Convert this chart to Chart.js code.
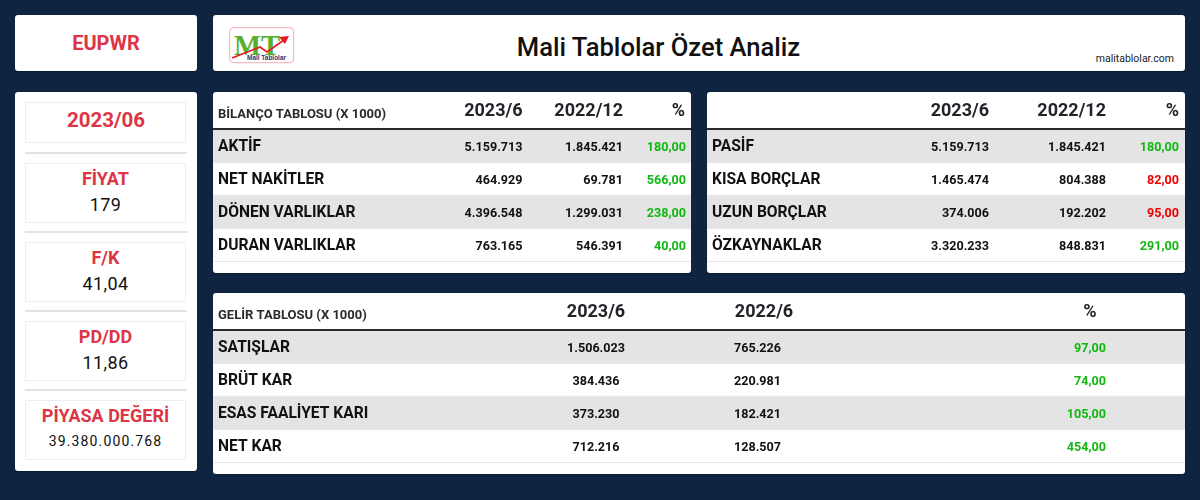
<!DOCTYPE html>
<html lang="tr">
<head>
<meta charset="utf-8">
<title>Mali Tablolar Özet Analiz</title>
<script src="https://cdn.jsdelivr.net/npm/chart.js@4"></script>
<style>
  html, body { margin: 0; padding: 0; }
  body { width: 1200px; height: 500px; background: #0e2440; font-family: Roboto, sans-serif; position: relative; overflow: hidden; color: #111; }
  .card { position: absolute; background: #fff; border-radius: 3px; box-shadow: 0 1px 1px rgba(0,0,0,.25); }
  .card canvas { position: absolute; left: 0; top: 0; }
  .red { color: #dc3545; }
  #symbol { left: 15px; top: 15px; width: 182px; height: 56px; text-align: center; font-size: 20px; font-weight: 700; line-height: 56px; }
  #head { left: 213px; top: 15px; width: 972px; height: 56px; }
  #head h1 { position: absolute; left: 0; width: 891px; top: 14px; margin: 0; text-align: center; font-size: 25.6px; font-weight: 500; line-height: 36px; color: #111; }
  #head span { position: absolute; right: 11px; top: 37px; font-size: 10.5px; line-height: 14px; color: #222; }
  #logo { position: absolute; left: 16px; top: 12px; }
  #side { left: 15px; top: 92px; width: 182px; height: 379px; }
  .box { position: absolute; left: 10px; width: 161px; border: 1px solid #eee; text-align: center; box-sizing: border-box; }
  .box b { display: block; font-weight: 700; font-size: 18px; line-height: 24px; }
  .box i { display: block; font-style: normal; font-size: 18px; line-height: 28px; letter-spacing: .4px; }
  .rule { position: absolute; left: 10px; width: 162px; height: 2px; background: #e3e3e3; }
</style>
</head>
<body>
<div class="card red" id="symbol"></div>
<div class="card" id="head">
  <svg id="logo" width="66" height="37" viewBox="0 0 66 37">
    <rect x=".7" y=".7" width="64" height="35" rx="4" fill="#fff" stroke="#f7a8b0" stroke-width="1"/>
    <text x="5" y="28" font-family="Liberation Serif" font-weight="700" font-size="30" fill="#55b02c" textLength="46" lengthAdjust="spacingAndGlyphs">MT</text>
    <polyline points="3,31 31,20 38,25 55,13" fill="none" stroke="#e21b22" stroke-width="1.6"/>
    <polygon points="60,9 50,10 56,17" fill="#e21b22"/>
    <text x="18" y="33" font-family="Liberation Sans" font-weight="700" font-size="6.5" fill="#2e3277" textLength="39" lengthAdjust="spacingAndGlyphs">Mali Tablolar</text>
  </svg>
  <h1 id="mainTitle"></h1>
  <span id="siteName"></span>
</div>
<div class="card" id="side"></div>
<div class="card" style="left:213px;top:92px;width:478px;height:181px"><canvas id="bilancoChart" width="478" height="181"></canvas></div>
<div class="card" style="left:707px;top:92px;width:478px;height:181px"><canvas id="pasifChart" width="478" height="181"></canvas></div>
<div class="card" style="left:213px;top:293px;width:972px;height:181px"><canvas id="gelirChart" width="972" height="181"></canvas></div>

<script>
const symbolName = 'EUPWR';
const mainTitle = 'Mali Tablolar Özet Analiz';
const siteName = 'malitablolar.com';

const periodLabel = '2023/06';
const kpiNames = ['FİYAT', 'F/K', 'PD/DD', 'PİYASA DEĞERİ'];
const kpiValues = ['179', '41,04', '11,86', '39.380.000.768'];

const bilancoTitle = 'BİLANÇO TABLOSU (X 1000)';
const bilancoHeaders = ['2023/6', '2022/12', '%'];
const aktifRows = ['AKTİF', 'NET NAKİTLER', 'DÖNEN VARLIKLAR', 'DURAN VARLIKLAR'];
const aktifCurrent = [5159713, 464929, 4396548, 763165];
const aktifPrevious = [1845421, 69781, 1299031, 546391];
const aktifChange = [180, 566, 238, 40];

const pasifRows = ['PASİF', 'KISA BORÇLAR', 'UZUN BORÇLAR', 'ÖZKAYNAKLAR'];
const pasifCurrent = [5159713, 1465474, 374006, 3320233];
const pasifPrevious = [1845421, 804388, 192202, 848831];
const pasifChange = [180, 82, 95, 291];

const gelirTitle = 'GELİR TABLOSU (X 1000)';
const gelirHeaders = ['2023/6', '2022/6', '%'];
const gelirRows = ['SATIŞLAR', 'BRÜT KAR', 'ESAS FAALİYET KARI', 'NET KAR'];
const gelirCurrent = [1506023, 384436, 373230, 712216];
const gelirPrevious = [765226, 220981, 182421, 128507];
const gelirChange = [97, 74, 105, 454];

// alternating grey rows, drawn as full width bars on a 0-100 axis
const rowBands = [100, 0, 100, 0];

const GREEN = '#12b812', RED = '#f00000';

const thousands = n => String(n).replace(/\B(?=(\d{3})+$)/g, '.');
const percent = n => n + ',00';

function makeTable(id, t) {
  const canvas = document.getElementById(id);
  const w = canvas.width;
  const pct = px => px / w * 100;

  const cellText = {
    id: 'cellText',
    afterDatasetsDraw(chart) {
      const { ctx, scales: { x, y } } = chart;
      ctx.save();
      ctx.textBaseline = 'middle';
      if (t.title) {
        ctx.font = '700 13px Roboto';
        ctx.fillStyle = '#2a2a2a';
        ctx.textAlign = 'left';
        ctx.fillText(t.title, 5, 22.5);
      }
      ctx.font = '700 12.6px Roboto';
      t.rows.forEach((_, i) => {
        const py = y.getPixelForValue(i) + 2;
        ctx.fillStyle = '#111';
        ctx.textAlign = t.alignCurrent;
        ctx.fillText(thousands(t.current[i]), x.getPixelForValue(pct(t.cellX[0])), py);
        ctx.textAlign = t.alignPrevious;
        ctx.fillText(thousands(t.previous[i]), x.getPixelForValue(pct(t.cellX[1])), py);
        ctx.fillStyle = t.changeColors[i];
        ctx.textAlign = 'right';
        ctx.fillText(percent(t.change[i]), x.getPixelForValue(pct(t.cellX[2])), py);
      });
      ctx.restore();
    }
  };

  return new Chart(canvas, {
    type: 'bar',
    data: {
      labels: t.rows,
      datasets: [{
        data: rowBands,
        backgroundColor: '#e4e4e4',
        barPercentage: 1,
        categoryPercentage: 1,
        borderWidth: 0
      }]
    },
    plugins: [cellText],
    options: {
      indexAxis: 'y',
      responsive: false,
      animation: false,
      layout: { padding: { bottom: 12 } },
      plugins: { legend: { display: false }, tooltip: { enabled: false } },
      scales: {
        x: {
          position: 'top',
          type: 'linear',
          min: 0,
          max: 100,
          afterBuildTicks: s => { s.ticks = t.headX.map(v => ({ value: pct(v) })); },
          afterFit: s => { s.height = 37; s.paddingLeft = 0; s.paddingRight = 0; },
          grid: { display: false, drawTicks: false },
          border: { color: '#2a2a2a', width: 2, z: 2 },
          ticks: {
            autoSkip: false,
            maxRotation: 0,
            align: t.headAlign,
            padding: 7,
            color: '#212529',
            font: { family: 'Roboto', size: 18, weight: 700 },
            callback: (v, i) => t.headers[i]
          }
        },
        y: {
          afterFit: s => { s.width = 0; s.paddingTop = 0; s.paddingBottom = 0; },
          grid: { color: '#e6e6e6', offset: true, drawTicks: false, z: 1 },
          border: { display: false },
          ticks: {
            mirror: true,
            padding: 5,
            labelOffset: 2,
            z: 2,
            color: '#111',
            font: { family: 'Roboto', size: 15.6, weight: 700 }
          }
        }
      }
    }
  });
}

document.getElementById('symbol').textContent = symbolName;
document.getElementById('mainTitle').textContent = mainTitle;
document.getElementById('siteName').textContent = siteName;

// left column
const side = document.getElementById('side');
const boxTops = [71, 150, 229, 308];
const ruleTops = [60, 139, 218, 297];
side.innerHTML = '<div class="box red" style="top:10px;height:41px;line-height:35px;font-size:20.5px;font-weight:700;padding-left:1px">' + periodLabel + '</div>';
kpiNames.forEach((name, i) => {
  const small = i === 3 ? 'font-size:14px;letter-spacing:1.15px;line-height:26px;' : '';
  side.innerHTML += '<div class="rule" style="top:' + ruleTops[i] + 'px"></div>' +
    '<div class="box" style="top:' + boxTops[i] + 'px;padding-top:3px;height:60px">' +
    '<b class="red">' + name + '</b><i style="' + small + '">' + kpiValues[i] + '</i></div>';
});

document.fonts.load('700 16px Roboto').then(() => document.fonts.load('500 18px Roboto')).then(() => {
  makeTable('bilancoChart', {
    title: bilancoTitle, headers: bilancoHeaders, rows: aktifRows,
    current: aktifCurrent, previous: aktifPrevious, change: aktifChange,
    changeColors: [GREEN, GREEN, GREEN, GREEN],
    headX: [309.5, 410, 472], headAlign: 'end',
    cellX: [309.5, 410, 473], alignCurrent: 'right', alignPrevious: 'right'
  });
  makeTable('pasifChart', {
    headers: bilancoHeaders, rows: pasifRows,
    current: pasifCurrent, previous: pasifPrevious, change: pasifChange,
    changeColors: [GREEN, RED, RED, GREEN],
    headX: [282, 399, 472], headAlign: 'end',
    cellX: [282, 399, 472], alignCurrent: 'right', alignPrevious: 'right'
  });
  makeTable('gelirChart', {
    title: gelirTitle, headers: gelirHeaders, rows: gelirRows,
    current: gelirCurrent, previous: gelirPrevious, change: gelirChange,
    changeColors: [GREEN, GREEN, GREEN, GREEN],
    headX: [383, 551, 877], headAlign: 'center',
    cellX: [383, 521, 893], alignCurrent: 'center', alignPrevious: 'left'
  });
});
</script>
</body>
</html>
